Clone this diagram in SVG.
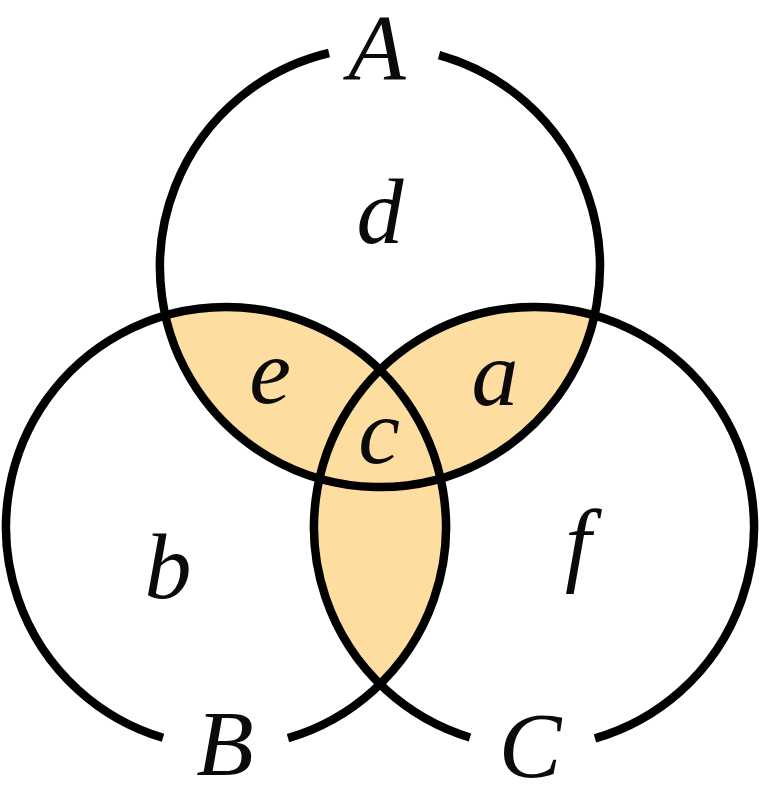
<svg xmlns="http://www.w3.org/2000/svg" width="760" height="804" viewBox="0 0 760 804">
  <style>
    .ring { fill: none; stroke: #000; stroke-width: 8.5; stroke-linecap: butt; }
    .shade { fill: #FEDDA0; stroke: none; }
    .lbl { font-family: 'Liberation Serif', 'DejaVu Serif', 'Times New Roman', serif; font-style: italic; font-weight: normal; font-size: 94px; fill: #0a0a0a; text-anchor: middle; }
  </style>
  <defs>
    <clipPath id="clipA"><circle cx="380" cy="267" r="220"/></clipPath>
    <clipPath id="clipB"><circle cx="226" cy="527" r="220"/></clipPath>
  </defs>
  <rect width="760" height="804" fill="#fff"/>
  <g id="regions">
    <circle class="shade" cx="226" cy="527" r="220" clip-path="url(#clipA)"/>
    <circle class="shade" cx="534" cy="527" r="220" clip-path="url(#clipA)"/>
    <circle class="shade" cx="534" cy="527" r="220" clip-path="url(#clipB)"/>
  </g>
  <g id="setA">
    <path class="ring" d="M 439 55.1 A 220 220 0 1 1 329 53"/>
    <text class="lbl" x="377" y="79">A</text>
  </g>
  <g id="setB">
    <path class="ring" d="M 163 737.8 A 220 220 0 1 1 288 738.1"/>
    <text class="lbl" x="225" y="775">B</text>
  </g>
  <g id="setC">
    <path class="ring" d="M 470 737.5 A 220 220 0 1 1 595 738.4"/>
    <text class="lbl" x="530" y="777">C</text>
  </g>
  <g id="region-labels">
    <text class="lbl" x="380" y="243">d</text>
    <text class="lbl" x="270" y="403">e</text>
    <text class="lbl" x="495" y="405">a</text>
    <text class="lbl" x="379" y="463">c</text>
    <text class="lbl" x="168" y="598">b</text>
    <text class="lbl" x="578" y="574">f</text>
  </g>
  <g id="connectors"></g>
</svg>
